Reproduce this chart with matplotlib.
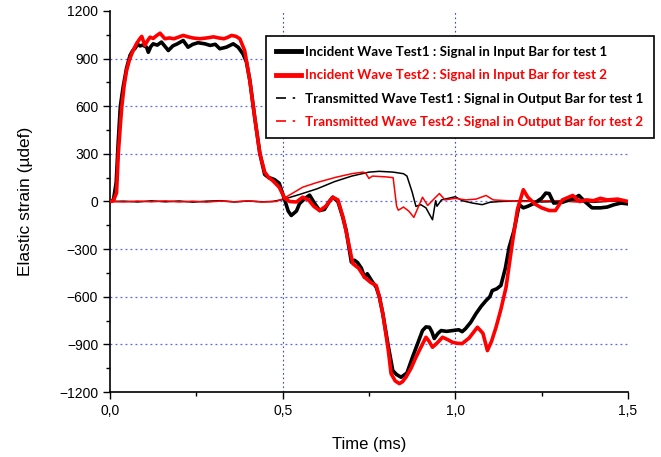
import matplotlib
matplotlib.use("Agg")
import matplotlib.pyplot as plt
from matplotlib.lines import Line2D
from matplotlib.ticker import MultipleLocator, FuncFormatter

# incident wave, test 1 (input bar)
t_inc1 = [0.0, 0.01, 0.018, 0.024, 0.03, 0.038, 0.048, 0.058, 0.066, 0.072, 0.08, 0.087,
          0.095, 0.106, 0.111, 0.118, 0.125, 0.137, 0.149, 0.16, 0.169, 0.182, 0.195, 0.212,
          0.226, 0.24, 0.255, 0.275, 0.29, 0.305, 0.318, 0.337, 0.357, 0.371, 0.385, 0.395,
          0.405, 0.419, 0.434, 0.448, 0.46, 0.468, 0.477, 0.49, 0.506, 0.516, 0.525, 0.54,
          0.549, 0.565, 0.578, 0.592, 0.607, 0.621, 0.635, 0.645, 0.66, 0.674, 0.684, 0.699,
          0.708, 0.717, 0.728, 0.737, 0.745, 0.758, 0.771, 0.78, 0.79, 0.805, 0.819, 0.83,
          0.843, 0.86, 0.876, 0.89, 0.905, 0.915, 0.925, 0.932, 0.939, 0.95, 0.959, 0.975,
          0.992, 1.01, 1.02, 1.03, 1.045, 1.06, 1.075, 1.089, 1.1, 1.107, 1.12, 1.132,
          1.145, 1.156, 1.17, 1.185, 1.197, 1.21, 1.23, 1.25, 1.262, 1.272, 1.285, 1.31,
          1.33, 1.345, 1.358, 1.375, 1.396, 1.42, 1.44, 1.46, 1.48, 1.5]
e_inc1 = [0, 10, 120, 380, 600, 720, 840, 920, 951, 963, 990, 980,
          985, 972, 940, 975, 993, 985, 1004, 975, 951, 980, 993, 1014,
          972, 990, 1000, 993, 983, 990, 962, 972, 993, 972, 930, 880,
          762, 531, 302, 170, 150, 145, 137, 115, 10, -60, -88, -60,
          -13, 20, 40, -10, -57, -50, 0, 27, 0, -98, -183, -382,
          -370, -385, -420, -477, -455, -500, -540, -600, -706, -900, -1065, -1090,
          -1107, -1080, -981, -900, -813, -790, -792, -820, -863, -830, -813, -818,
          -813, -808, -820, -800, -760, -706, -660, -624, -600, -561, -550, -529,
          -420, -288, -183, -20, -40, -30, -10, 20, 53, 50, -10, -5,
          10, 20, 38, 0, -40, -40, -35, -20, -10, -15]

# incident wave, test 2 (input bar)
t_inc2 = [0.0, 0.01, 0.019, 0.024, 0.03, 0.034, 0.041, 0.048, 0.056, 0.063, 0.07, 0.077,
          0.087, 0.092, 0.101, 0.108, 0.116, 0.125, 0.135, 0.145, 0.159, 0.172, 0.185, 0.198,
          0.212, 0.226, 0.24, 0.26, 0.28, 0.3, 0.315, 0.33, 0.342, 0.352, 0.365, 0.376,
          0.39, 0.405, 0.419, 0.434, 0.448, 0.46, 0.471, 0.49, 0.506, 0.52, 0.54, 0.558,
          0.575, 0.59, 0.607, 0.625, 0.645, 0.66, 0.675, 0.685, 0.703, 0.72, 0.737, 0.755,
          0.771, 0.78, 0.79, 0.805, 0.814, 0.826, 0.838, 0.847, 0.857, 0.872, 0.886, 0.9,
          0.915, 0.924, 0.934, 0.948, 0.963, 0.978, 0.992, 1.005, 1.02, 1.04, 1.064, 1.08,
          1.093, 1.105, 1.118, 1.132, 1.147, 1.165, 1.18, 1.197, 1.21, 1.23, 1.25, 1.272,
          1.29, 1.31, 1.34, 1.36, 1.38, 1.4, 1.42, 1.44, 1.47, 1.5]
e_inc2 = [0, 5, 55, 300, 480, 594, 730, 825, 890, 930, 965, 995,
          1027, 1040, 983, 1010, 1035, 1027, 1045, 1060, 1025, 1030, 1025, 1035,
          1046, 1037, 1030, 1025, 1030, 1037, 1030, 1025, 1035, 1046, 1040, 1025,
          951, 762, 531, 302, 185, 150, 132, 90, 20, 0, -3, 27,
          10, -30, -57, -30, 27, 10, -100, -200, -391, -420, -477, -510,
          -529, -600, -706, -920, -1084, -1130, -1147, -1135, -1107, -1050, -981, -920,
          -855, -880, -918, -890, -855, -870, -887, -893, -895, -860, -792, -830,
          -939, -880, -792, -680, -540, -265, -50, 74, 27, -15, -40, -57,
          -57, 10, 38, 0, 10, 5, 20, 10, 15, 0]

# transmitted wave, test 1 (output bar)
t_tr1 = [0.0, 0.04, 0.08, 0.12, 0.16, 0.2, 0.24, 0.28, 0.32, 0.36, 0.4, 0.44,
         0.47, 0.5, 0.55, 0.6, 0.65, 0.7, 0.75, 0.78, 0.82, 0.85, 0.86, 0.875,
         0.886, 0.9, 0.915, 0.925, 0.934, 0.943, 0.947, 0.96, 0.98, 1.0, 1.02, 1.05,
         1.078, 1.1, 1.13, 1.2, 1.25, 1.3, 1.35, 1.4, 1.45, 1.5]
e_tr1 = [0, 2, -3, 4, -2, 3, -4, 2, 5, -3, 3, -2,
         0, 12, 45, 80, 125, 160, 185, 190, 185, 175, 160, 60,
         -31, -20, -40, -80, -115, 5, -30, 10, 20, 30, 5, -10,
         -20, -5, 0, 5, -3, 0, 4, -5, 2, 0]

# transmitted wave, test 2 (output bar)
t_tr2 = [0.0, 0.04, 0.08, 0.12, 0.16, 0.2, 0.24, 0.28, 0.32, 0.36, 0.4, 0.44,
         0.48, 0.5, 0.558, 0.6, 0.655, 0.7, 0.732, 0.74, 0.75, 0.76, 0.8, 0.82,
         0.83, 0.835, 0.85, 0.865, 0.88, 0.905, 0.92, 0.94, 0.954, 0.97, 1.0, 1.03,
         1.06, 1.089, 1.11, 1.15, 1.2, 1.25, 1.3, 1.35, 1.4, 1.45, 1.5]
e_tr2 = [0, -3, 3, -2, 4, -3, 2, -4, 3, -2, 4, -3,
         0, 15, 90, 120, 153, 175, 185, 180, 145, 160, 155, 150,
         -30, -55, -35, -60, -100, 27, -25, 20, 50, 10, 20, 10,
         15, 38, 10, 5, 0, 4, 5, -3, 0, 3, 5]

labels = ["Incident Wave Test1 : Signal in Input Bar for test 1",
          "Incident Wave Test2 : Signal in Input Bar for test 2",
          "Transmitted Wave Test1 : Signal in Output Bar for test 1",
          "Transmitted Wave Test2 : Signal in Output Bar for test 2"]
colors = ["black", "red", "black", "red"]

plt.rcParams["font.family"] = ["Liberation Sans", "DejaVu Sans"]

fig = plt.figure(figsize=(6.61, 4.57), dpi=100)
ax = fig.add_axes([0.1664, 0.1422, 0.7836, 0.8338])

ax.plot(t_tr1, e_tr1, color="black", lw=1.1, zorder=3)
ax.plot(t_tr2, e_tr2, color="red", lw=1.1, zorder=3)
ax.plot(t_inc1, e_inc1, color="black", lw=2.6, zorder=4, solid_joinstyle="round")
ax.plot(t_inc2, e_inc2, color="red", lw=2.6, zorder=5, solid_joinstyle="round")

ax.set_xlim(0, 1.5)
ax.set_ylim(-1200, 1200)
ax.xaxis.set_major_locator(MultipleLocator(0.5))
ax.xaxis.set_minor_locator(MultipleLocator(0.25))
ax.yaxis.set_major_locator(MultipleLocator(300))
ax.yaxis.set_minor_locator(MultipleLocator(150))
ax.xaxis.set_major_formatter(FuncFormatter(lambda v, p: ("%.1f" % v).replace(".", ",")))
ax.tick_params(which="major", direction="out", length=5, width=1, labelsize=10)
ax.tick_params(which="minor", direction="out", length=3, width=1)

for s in ["top", "right"]:
    ax.spines[s].set_visible(False)
for s in ["left", "bottom"]:
    ax.spines[s].set_linewidth(1.2)

# dotted blue grid, not on the axis limits
for x in [0.5, 1.0]:
    ax.axvline(x, color="#3344ff", lw=0.8, ls=(0, (1.5, 2.5)), zorder=1)
for y in [-900, -600, -300, 0, 300, 600, 900]:
    ax.axhline(y, color="#5566ff", lw=0.9, ls=(0, (1.5, 2.5)), zorder=1)

ax.set_xlabel("Time (ms)", fontsize=12, labelpad=14)
ax.set_ylabel("Elastic strain (µdef)", fontsize=12.5, labelpad=19)

handles = [Line2D([], [], color="black", lw=3.5),
           Line2D([], [], color="red", lw=3.5),
           Line2D([], [], color="black", lw=1.2, ls=(0, (6, 4, 1.5, 4, 1.5, 4))),
           Line2D([], [], color="red", lw=1.2, ls=(0, (6, 4, 1.5, 4, 1.5, 4)))]
leg = fig.legend(handles, labels, loc="upper left", bbox_to_anchor=(266 / 661, 1 - 36 / 457),
                 prop={"family": "Lato", "weight": "bold", "size": 9.6},
                 frameon=True, fancybox=False, edgecolor="black", framealpha=1,
                 handlelength=1.9, handletextpad=0.3, borderpad=0.75, labelspacing=0.85,
                 borderaxespad=0)
leg.get_frame().set_linewidth(1.2)
for txt, c in zip(leg.get_texts(), colors):
    txt.set_color(c)

fig.savefig("out.png", dpi=100)
